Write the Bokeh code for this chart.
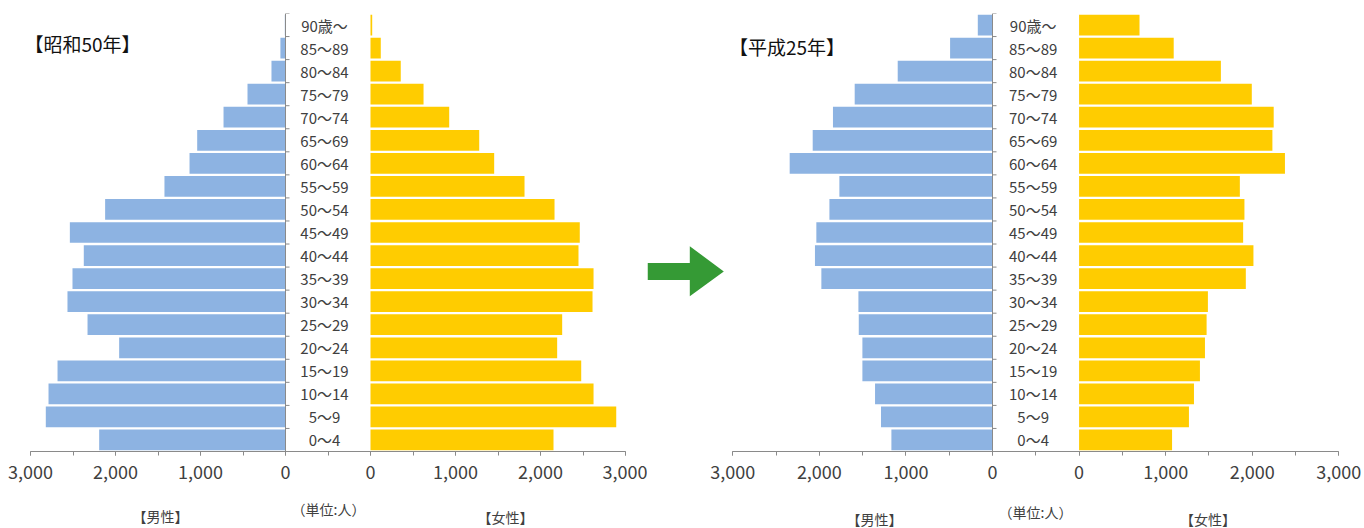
from bokeh.plotting import figure
from bokeh.layouts import row, column
from bokeh.models import Range1d, FixedTicker, ColumnDataSource
from bokeh.core.properties import value
from bokeh.embed import file_html
from bokeh.resources import INLINE

# ---------------- data ----------------
ages = ["0～4", "5～9", "10～14", "15～19", "20～24", "25～29", "30～34", "35～39",
        "40～44", "45～49", "50～54", "55～59", "60～64", "65～69", "70～74",
        "75～79", "80～84", "85～89", "90歳～"]

male_s50 = [2192, 2820, 2788, 2682, 1957, 2329, 2565, 2506, 2373, 2537,
            2122, 1424, 1129, 1039, 729, 447, 165, 60, 8]
female_s50 = [2153, 2891, 2624, 2479, 2196, 2255, 2612, 2624, 2447, 2462,
              2165, 1812, 1455, 1279, 926, 624, 356, 121, 20]

male_h25 = [1168, 1288, 1357, 1503, 1503, 1545, 1549, 1977, 2051, 2035,
            1884, 1769, 2343, 2077, 1843, 1592, 1095, 490, 170]
female_h25 = [1074, 1269, 1327, 1396, 1454, 1473, 1488, 1926, 2014, 1895,
              1910, 1857, 2378, 2233, 2248, 1995, 1638, 1093, 698]

tick_values = [0, 1000, 2000, 3000]
tick_labels = ["0", "1,000", "2,000", "3,000"]

titles = ["【昭和50年】", "【平成25年】"]
male_label = "【男性】"
female_label = "【女性】"
unit_label = "（単位:人）"

# ---------------- style ----------------
MALE_COLOR = "#8DB3E2"
FEMALE_COLOR = "#FFCC00"
AXIS_COLOR = "#8A8A8A"
TEXT_COLOR = "#404040"
ARROW_COLOR = "#359A35"
CJK = "'Noto Sans CJK JP', sans-serif"

GAP = 1000          # width of the centre (label) column, in axis units
XMAX = 3000
W, H = 1364, 528
TOP_H = 495         # height of the pyramid row; the caption strip sits below

# arrow outline in page pixels (decoration)
ARROW_PX = [(647, 261), (689.3, 261), (689.3, 244), (723.3, 269.6),
            (689.3, 295), (689.3, 278.3), (647, 278.3)]


def make_pyramid(male, female, title, g, arrow=False):
    span = 2 * XMAX + GAP
    sx = (g["x1"] - g["x0"]) / span
    x_lo = -(XMAX + GAP)
    xs = x_lo - (g["x0"] - g["fl"]) / sx
    xe = x_lo + (g["fr"] - g["x0"]) / sx

    def dx(px):
        return x_lo + (px - g["x0"]) / sx

    def dy(py):
        return len(ages) * (g["bot"] - py) / (g["bot"] - g["top"])

    p = figure(width=g["fr"] - g["fl"], height=TOP_H,
               x_range=Range1d(xs, xe), y_range=Range1d(0, len(ages)),
               output_backend="svg", toolbar_location=None,
               min_border_left=0, min_border_right=0,
               min_border_top=g["top"], min_border_bottom=TOP_H - g["bot"],
               y_axis_location=None)
    p.outline_line_color = None
    p.grid.visible = False
    p.background_fill_color = "white"
    p.border_fill_color = "white"

    yc = [i + 0.5 for i in range(len(ages))]
    msrc = ColumnDataSource(dict(y=yc, left=[-GAP - v for v in male],
                                 right=[-GAP] * len(male)))
    fsrc = ColumnDataSource(dict(y=yc, left=[0] * len(female), right=female))
    p.hbar(y="y", left="left", right="right", height=0.9, source=msrc,
           fill_color=MALE_COLOR, line_color=None)
    p.hbar(y="y", left="left", right="right", height=0.9, source=fsrc,
           fill_color=FEMALE_COLOR, line_color=None)

    # vertical category axis at male zero, with ticks at boundaries
    p.segment(x0=[-GAP], y0=[0], x1=[-GAP], y1=[len(ages)],
              line_color=AXIS_COLOR, line_width=1)
    bnd = list(range(len(ages) + 1))
    p.segment(x0=[-GAP] * len(bnd), y0=bnd, x1=[-GAP + 4 / sx] * len(bnd),
              y1=bnd, line_color=AXIS_COLOR, line_width=1)

    # age labels
    p.text(x=[dx(g["agec"])] * len(ages), y=yc, text=ages,
           text_align="center", text_baseline="middle",
           text_font=value(CJK), text_font_size="15px",
           text_color=TEXT_COLOR)

    # title
    p.text(x=[dx(g["tx"])], y=[dy(g["ty"])], text=[title],
           text_align="center", text_baseline="middle",
           text_font=value(CJK), text_font_size="19px", text_color="#111111")

    # x axis
    ax = p.xaxis[0]
    major = [-GAP - v for v in tick_values] + tick_values
    minor = sorted(set([-GAP - v - 500 for v in tick_values[:-1]] +
                       [v + 500 for v in tick_values[:-1]] + [-GAP / 2] + major))
    ax.ticker = FixedTicker(ticks=sorted(major), minor_ticks=minor)
    ov = {}
    for v, lab in zip(tick_values, tick_labels):
        ov[-GAP - v] = lab
        ov[v] = lab
    ax.major_label_overrides = ov
    ax.bounds = (-(XMAX + GAP), XMAX)
    ax.axis_line_color = AXIS_COLOR
    ax.major_tick_line_color = AXIS_COLOR
    ax.minor_tick_line_color = AXIS_COLOR
    ax.major_tick_in = 0
    ax.major_tick_out = 4
    ax.minor_tick_in = 0
    ax.minor_tick_out = 4
    ax.major_label_standoff = 9
    ax.major_label_text_font = CJK
    ax.major_label_text_font_size = "18px"
    ax.major_label_text_color = TEXT_COLOR

    if arrow:
        p.patch(x=[dx(a) for a, b in ARROW_PX], y=[dy(b) for a, b in ARROW_PX],
                fill_color=ARROW_COLOR, line_color=None)
    return p


gL = dict(fl=0, fr=647, x0=30.0, x1=625.0, top=13, bot=451,
          agec=324, tx=82, ty=42.5)
gR = dict(fl=647, fr=W, x0=732.3, x1=1338.3, top=7, bot=453,
          agec=1032.7, tx=786.5, ty=41)

pL = make_pyramid(male_s50, female_s50, titles[0], gL)
pR = make_pyramid(male_h25, female_h25, titles[1], gR, arrow=True)

# caption strip under the axes (page-pixel x, strip-pixel y from the bottom)
STRIP_H = H - TOP_H
strip = figure(width=W, height=STRIP_H, x_range=Range1d(0, W),
               y_range=Range1d(0, STRIP_H), output_backend="svg",
               toolbar_location=None, min_border=0,
               x_axis_location=None, y_axis_location=None)
strip.outline_line_color = None
strip.grid.visible = False
cap_text = [male_label, unit_label, female_label,
            male_label, unit_label, female_label]
cap_x = [160, 328, 505, 874, 1035, 1207.5]
cap_y = [H - 515, H - 508, H - 516, H - 518, H - 511, H - 518]
strip.text(x=cap_x, y=cap_y, text=cap_text, text_align="center",
           text_baseline="middle", text_font=value(CJK),
           text_font_size="14px", text_color=TEXT_COLOR)

layout = column(row(pL, pR, spacing=0), strip, spacing=0)
open("out.html", "w").write(file_html(layout, INLINE))
